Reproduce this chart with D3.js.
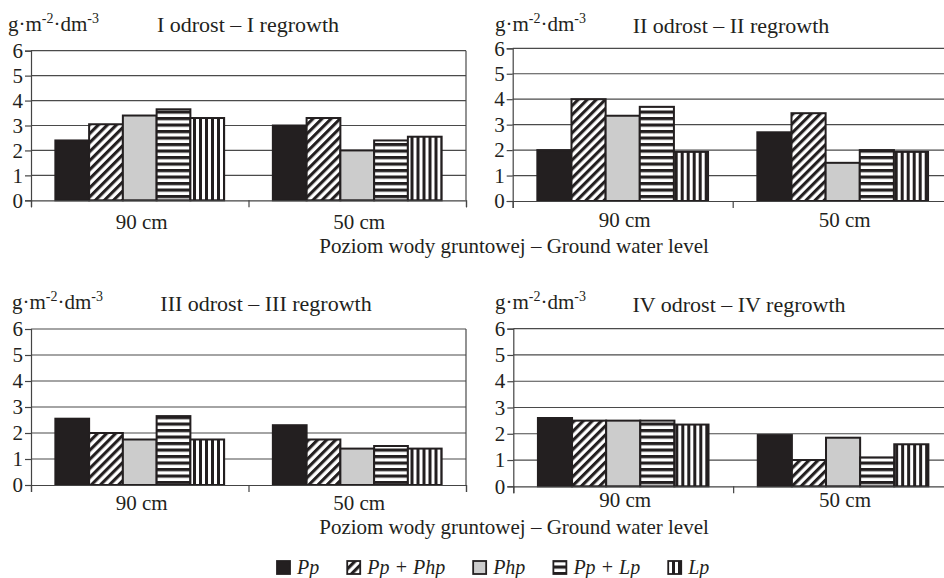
<!DOCTYPE html>
<html>
<head>
<meta charset="utf-8">
<script src="https://cdn.jsdelivr.net/npm/d3@7"></script>
<style>
  body { margin: 0; background: #fff; }
  svg text { font-family: "Liberation Serif", "Times New Roman", serif; fill: #231f20; }
</style>
</head>
<body>
<svg id="chart" width="944" height="578"></svg>
<script>
const categories = ["90 cm", "50 cm"];
const series = ["Pp", "Pp + Php", "Php", "Pp + Lp", "Lp"];
const yTicks = [0, 1, 2, 3, 4, 5, 6];

// values[category][series]
const regrowth1 = [[2.4, 3.05, 3.4, 3.65, 3.3], [3.0, 3.3, 2.0, 2.4, 2.55]];
const regrowth2 = [[2.0, 4.0, 3.35, 3.7, 1.93], [2.7, 3.45, 1.5, 2.0, 1.93]];
const regrowth3 = [[2.55, 2.0, 1.75, 2.65, 1.75], [2.3, 1.75, 1.4, 1.5, 1.4]];
const regrowth4 = [[2.6, 2.5, 2.5, 2.5, 2.35], [1.95, 1.0, 1.85, 1.1, 1.6]];

const titles = ["I odrost – I regrowth", "II odrost – II regrowth",
                "III odrost – III regrowth", "IV odrost – IV regrowth"];
const xTitle = "Poziom wody gruntowej – Ground water level";

const panels = [
  {title: titles[0], values: regrowth1, x0: 31, x1: 466, yTop: 50.7, yBot: 200.3, titleX: 248, titleY: 32, unitX: 8, unitY: 31, labelY: 229},
  {title: titles[1], values: regrowth2, x0: 512.7, x1: 952.7, yTop: 48.3, yBot: 201, titleX: 731, titleY: 33, unitX: 495, unitY: 31, labelY: 227},
  {title: titles[2], values: regrowth3, x0: 31, x1: 466, yTop: 329, yBot: 485, titleX: 266, titleY: 311, unitX: 12, unitY: 309, labelY: 510},
  {title: titles[3], values: regrowth4, x0: 513.3, x1: 953, yTop: 328.7, yBot: 486.3, titleX: 739, titleY: 312, unitX: 495, unitY: 309, labelY: 507}
];

const svg = d3.select("#chart");
const ink = "#231f20";

// patterns
const defs = svg.append("defs");
const diag = defs.append("pattern").attr("id", "p1")
  .attr("patternUnits", "userSpaceOnUse").attr("width", 6.4).attr("height", 6.4)
  .attr("patternTransform", "rotate(45)");
diag.append("rect").attr("width", 6.4).attr("height", 6.4).attr("fill", "#fff");
diag.append("rect").attr("width", 3.1).attr("height", 6.4).attr("fill", ink);

const hs = defs.append("pattern").attr("id", "p3")
  .attr("patternUnits", "userSpaceOnUse").attr("width", 13).attr("height", 6.5);
hs.append("rect").attr("width", 13).attr("height", 6.5).attr("fill", "#fff");
hs.append("rect").attr("width", 13).attr("height", 3.2).attr("fill", ink);

const vs = defs.append("pattern").attr("id", "p4")
  .attr("patternUnits", "userSpaceOnUse").attr("width", 6).attr("height", 10);
vs.append("rect").attr("width", 6).attr("height", 10).attr("fill", "#fff");
vs.append("rect").attr("width", 3).attr("height", 10).attr("fill", ink);

const fills = [ink, "url(#p1)", "#cccccc", "url(#p3)", "url(#p4)"];

function unitLabel(g, x, y) {
  const t = g.append("text").attr("x", x).attr("y", y).style("font-size", "21px");
  t.append("tspan").text("g·m");
  t.append("tspan").attr("dy", -8).style("font-size", "14px").text("-2");
  t.append("tspan").attr("dy", 8).text("·dm");
  t.append("tspan").attr("dy", -8).style("font-size", "14px").text("-3");
}

panels.forEach(p => {
  const g = svg.append("g");
  const y = d3.scaleLinear().domain([0, 6]).range([p.yBot, p.yTop]);
  const x = d3.scaleBand().domain(categories).range([p.x0, p.x1]);
  const pad = x.bandwidth() * 0.112;
  const xs = d3.scaleBand().domain(series).range([pad, x.bandwidth() - pad]);

  // gridlines
  g.append("g").selectAll("line")
    .data(yTicks.filter(d => d > 0))
    .join("line")
    .attr("x1", p.x0).attr("x2", p.x1)
    .attr("y1", d => y(d)).attr("y2", d => y(d))
    .attr("stroke", "#4a4a4a").attr("stroke-width", 1.2);

  // right border
  g.append("line").attr("x1", p.x1).attr("x2", p.x1)
    .attr("y1", p.yTop).attr("y2", p.yBot)
    .attr("stroke", "#4a4a4a").attr("stroke-width", 1.2);

  // bars
  g.append("g").selectAll("g")
    .data(p.values)
    .join("g")
    .attr("transform", (d, i) => `translate(${x(categories[i])},0)`)
    .selectAll("rect")
    .data(d => d)
    .join("rect")
    .attr("x", (d, j) => xs(series[j]))
    .attr("width", xs.bandwidth())
    .attr("y", d => y(d))
    .attr("height", d => y(0) - y(d))
    .attr("fill", (d, j) => fills[j])
    .attr("stroke", ink).attr("stroke-width", 2);

  // y axis
  const ya = g.append("g")
    .attr("transform", `translate(${p.x0},0)`)
    .call(d3.axisLeft(y).tickValues(yTicks).tickSize(6).tickPadding(2).tickFormat(d3.format("d")));
  ya.selectAll("path, line").attr("stroke", "#444").attr("stroke-width", 1.2);
  ya.selectAll("text").attr("fill", ink).style("font-size", "21px");

  // x axis boundary ticks
  const xb = d3.scaleLinear().domain([0, categories.length]).range([p.x0, p.x1]);
  const xa = g.append("g")
    .attr("transform", `translate(0,${p.yBot})`)
    .call(d3.axisBottom(xb).tickValues(d3.range(categories.length + 1)).tickSize(7).tickFormat(""));
  xa.selectAll("path, line").attr("stroke", "#444").attr("stroke-width", 1.2);

  // category labels
  g.append("g").selectAll("text")
    .data(categories)
    .join("text")
    .attr("x", d => x(d) + x.bandwidth() / 2 + 2)
    .attr("y", p.labelY)
    .attr("text-anchor", "middle")
    .style("font-size", "21px")
    .text(d => d);

  // title and unit
  g.append("text").attr("x", p.titleX).attr("y", p.titleY)
    .attr("text-anchor", "middle").style("font-size", "22px").text(p.title);
  unitLabel(g, p.unitX, p.unitY);
});

// ground water labels
[253, 534].forEach(yy => {
  svg.append("text").attr("x", 514).attr("y", yy).attr("text-anchor", "middle")
    .style("font-size", "21px").text(xTitle);
});

// legend
const legend = svg.append("g");
let lx = 277;
series.forEach((s, i) => {
  legend.append("rect").attr("x", lx).attr("y", 561).attr("width", 13).attr("height", 13)
    .attr("fill", fills[i]).attr("stroke", ink).attr("stroke-width", 1.8);
  const t = legend.append("text").attr("x", lx + 20).attr("y", 574)
    .style("font-size", "20px").style("font-style", "italic").text(s);
  lx += 20 + t.node().getComputedTextLength() + 28;
});
</script>
</body>
</html>
